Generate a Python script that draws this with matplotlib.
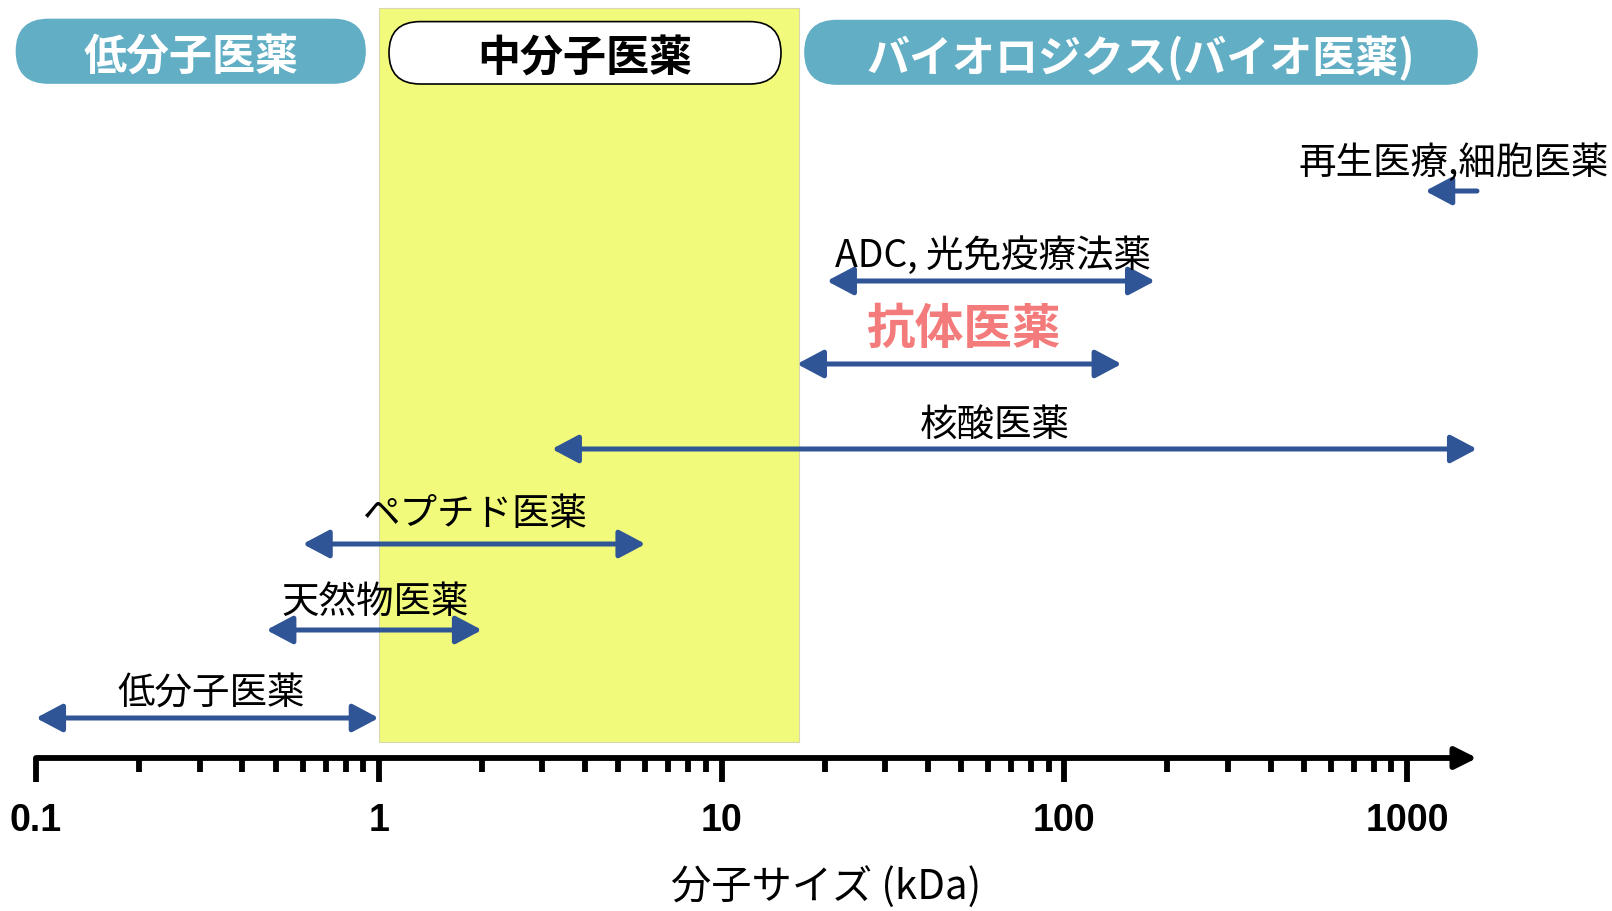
import matplotlib
matplotlib.use("Agg")
import matplotlib.pyplot as plt
from matplotlib.patches import FancyBboxPatch, Rectangle

plt.rcParams['font.family'] = ['Noto Sans CJK JP', 'DejaVu Sans']

# --- data (molecular size ranges, kDa) ---
drug_names = ["低分子医薬", "天然物医薬", "ペプチド医薬", "核酸医薬", "抗体医薬", "ADC, 光免疫療法薬", "再生医療,細胞医薬"]
size_low = [0.1, 0.47, 0.6, 3.2, 16.6, 20.3, 1130]
size_high = [1.0, 2.0, 6.0, 1600, 147, 184, 1600]
both_heads = [True, True, True, True, True, True, False]
label_x = [0.324, 0.975, 1.90, 62.8, 50.7, 62, 1370]

mid_band = (1.0, 16.8)          # 中分子 range
ticks_major = [0.1, 1, 10, 100, 1000]
tick_labels = ["0.1", "1", "10", "100", "1000"]
ticks_minor = [m * d for d in [0.1, 1, 10, 100] for m in range(2, 10)]
x_end = 1600

headers = ["低分子医薬", "中分子医薬", "バイオロジクス(バイオ医薬)"]

# --- layout (pixels from top) ---
W, H = 1612, 912
arrow_y = [719, 631, 545, 450, 365, 282, 192]
text_y = [693, 602, 515, 425, 329, 256, 163]
axis_y = 759
blue = "#2F5597"
pill_blue = "#62AEC5"

fig = plt.figure(figsize=(W / 100, H / 100), dpi=100)
ax = fig.add_axes([0, 0, 1, 1])
ax.set_xscale('log')
ax.set_xlim(10 ** -1.105, 10 ** 3.598)
ax.set_ylim(H, 0)
ax.axis('off')

# 中分子 band
ax.add_patch(Rectangle((mid_band[0], 9), mid_band[1] - mid_band[0], 734,
                       facecolor="#F2FA7B", edgecolor="#D8D8B0", lw=0.8, zorder=0))

# range arrows + labels
for name, lo, hi, both, lx, ay, ty in zip(drug_names, size_low, size_high, both_heads,
                                          label_x, arrow_y, text_y):
    style = '<|-|>' if both else '<|-'
    ax.annotate('', xy=(hi, ay), xytext=(lo, ay),
                arrowprops=dict(arrowstyle=f'{style},head_length=1.6,head_width=0.85',
                                mutation_scale=10, lw=3.6, color=blue,
                                shrinkA=0, shrinkB=0), zorder=3)
    if name == "抗体医薬":
        ax.text(lx, ty, name, ha='center', va='center', fontsize=35,
                fontweight='bold', color="#F47B7B", zorder=4)
    else:
        ax.text(lx, ty, name, ha='center', va='center', fontsize=27,
                color='black', zorder=4)

# x axis with arrow
ax.annotate('', xy=(x_end, axis_y), xytext=(0.1, axis_y),
            arrowprops=dict(arrowstyle='-|>,head_length=1.3,head_width=0.65',
                            mutation_scale=10, lw=4.2, color='black',
                            shrinkA=0, shrinkB=0), zorder=3)
ax.vlines(ticks_major, axis_y, axis_y + 24, color='black', lw=4.2, zorder=3)
ax.vlines(ticks_minor, axis_y, axis_y + 14, color='black', lw=4.2, zorder=3)
for t, lab in zip(ticks_major, tick_labels):
    ax.text(t, 821, lab, ha='center', va='center', fontsize=27, fontweight='bold',
            family=['Liberation Sans', 'DejaVu Sans'])
ax.text(10 ** 1.304, 888, "分子サイズ (kDa)", ha='center', va='center', fontsize=29)

# header pills (pixel coordinates)
axp = fig.add_axes([0, 0, 1, 1])
axp.set_xlim(0, W)
axp.set_ylim(H, 0)
axp.axis('off')
axp.patch.set_alpha(0)
pill_box = [(16.5, 20.5, 365, 84), (389, 22.6, 781, 85), (805, 21.6, 1477, 85)]
pill_face = [pill_blue, "white", pill_blue]
pill_edge = [pill_blue, "black", pill_blue]
pill_text = ["white", "black", "white"]
for txt, (x0, y0, x1, y1), fc, ec, tc in zip(headers, pill_box, pill_face, pill_edge, pill_text):
    r = (y1 - y0) / 2
    axp.add_patch(FancyBboxPatch((x0, y0), x1 - x0, y1 - y0,
                                 boxstyle=f"round,pad=0,rounding_size={r}",
                                 facecolor=fc, edgecolor=ec, lw=1.2))
    axp.text((x0 + x1) / 2, (y0 + y1) / 2 + 5, txt, ha='center', va='center',
             fontsize=31, fontweight='bold', color=tc)

fig.savefig("out.png", dpi=100)
